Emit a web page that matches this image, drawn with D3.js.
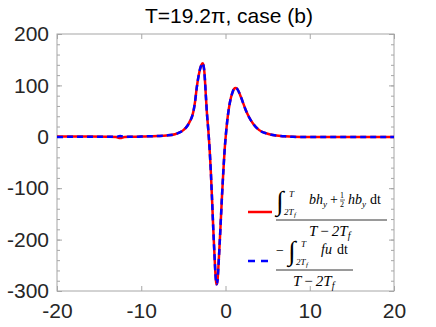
<!DOCTYPE html>
<html>
<head>
<meta charset="utf-8">
<script src="https://cdn.jsdelivr.net/npm/d3@7"></script>
<style>
  body { margin: 0; background: #fff; }
  svg { display: block; }
</style>
</head>
<body>
<div id="chart"></div>
<script>
// values
var xs   = [-20, -18, -16, -14, -13, -12.5, -12, -11, -10, -9, -8, -7, -6, -5.5, -5, -4.5, -4.2, -4, -3.8, -3.6, -3.4, -3.2, -3.0, -2.85, -2.7, -2.6, -2.5, -2.35, -2.2, -2.05, -1.9, -1.75, -1.6, -1.45, -1.3, -1.2, -1.1, -1.05, -0.95, -0.85, -0.7, -0.55, -0.4, -0.25, -0.1, 0.05, 0.2, 0.4, 0.6, 0.8, 1.0, 1.2, 1.4, 1.7, 2.0, 2.4, 2.8, 3.3, 4.0, 5.0, 6.0, 7.0, 8.0, 10, 12, 14, 16, 18, 20];
var redY = [0.5, 0.5, 0.5, 0, -0.5, -2.5, -0.5, 0, 0.5, 1, 1.5, 2.5, 5, 8, 13, 22, 31, 38, 50, 70, 97, 118, 133, 140, 143, 138, 125, 85, 45, 15, -20, -65, -120, -180, -232, -265, -284, -287, -280, -255, -210, -160, -110, -65, -25, 5, 30, 55, 73, 85, 93, 95, 93, 83, 70, 52, 38, 25, 13, 6, 2.5, 1, 0, -0.5, -0.5, -0.5, -0.5, -0.5, -0.5];
var blueY = [-0.5, 0, 0, 0, 0, 1.5, 0, 0, 0.5, 1, 1.5, 2.5, 5, 8, 13, 22, 31, 38, 50, 70, 97, 118, 133, 140, 143, 138, 125, 85, 45, 15, -20, -65, -120, -180, -232, -265, -284, -287, -280, -255, -210, -160, -110, -65, -25, 5, 30, 55, 73, 85, 93, 95, 93, 83, 70, 52, 38, 25, 13, 6, 2.5, 1, 0, -0.5, -0.5, -0.5, -0.5, -0.5, -0.5];
var xTicks = [-20, -10, 0, 10, 20];
var yTicks = [200, 100, 0, -100, -200, -300];
var yMinor = d3.range(-300, 201, 20);

var width = 436, height = 327;
var mLeft = 57, mRight = 394, mTop = 34, mBottom = 291;

var svg = d3.select("#chart").append("svg")
    .attr("width", width)
    .attr("height", height);

var x = d3.scaleLinear().domain([-20, 20]).range([mLeft, mRight]);
var y = d3.scaleLinear().domain([-300, 200]).range([mBottom, mTop]);

var axisColor = "#a6a6a6", textColor = "#262626";
var fmt = function(d) { return String(d); };

// axes box
svg.append("rect")
    .attr("x", mLeft).attr("y", mTop)
    .attr("width", mRight - mLeft).attr("height", mBottom - mTop)
    .attr("fill", "none").attr("stroke", axisColor).attr("stroke-width", 1);

function styleAxis(g) {
  g.select(".domain").remove();
  g.selectAll(".tick line").attr("stroke", axisColor);
  g.selectAll(".tick text")
      .attr("fill", textColor)
      .style("font-family", "'Liberation Sans', Arial, sans-serif")
      .style("font-size", "21px");
}

svg.append("g")
    .attr("transform", "translate(0," + mBottom + ")")
    .call(d3.axisBottom(x).tickValues(xTicks).tickSize(-5).tickPadding(12).tickFormat(fmt))
    .call(styleAxis);

svg.append("g")
    .attr("transform", "translate(0," + mTop + ")")
    .call(d3.axisTop(x).tickValues(xTicks).tickSize(-5).tickFormat(""))
    .call(styleAxis);

svg.append("g")
    .attr("transform", "translate(" + mLeft + ",0)")
    .call(d3.axisLeft(y).tickValues(yMinor).tickSize(-3).tickFormat(""))
    .call(styleAxis);

svg.append("g")
    .attr("transform", "translate(" + mLeft + ",0)")
    .call(d3.axisLeft(y).tickValues(yTicks).tickSize(-5).tickPadding(8).tickFormat(fmt))
    .call(styleAxis);

svg.append("g")
    .attr("transform", "translate(" + mRight + ",0)")
    .call(d3.axisRight(y).tickValues(yMinor).tickSize(-3).tickFormat(""))
    .call(styleAxis);

svg.append("g")
    .attr("transform", "translate(" + mRight + ",0)")
    .call(d3.axisRight(y).tickValues(yTicks).tickSize(-5).tickFormat(""))
    .call(styleAxis);

// curves
var red = xs.map(function(d, i) { return [d, redY[i]]; });
var blue = xs.map(function(d, i) { return [d, blueY[i]]; });

var line = d3.line()
    .x(function(d) { return x(d[0]); })
    .y(function(d) { return y(d[1]); })
    .curve(d3.curveMonotoneX);

svg.append("path").datum(red)
    .attr("d", line)
    .attr("fill", "none").attr("stroke", "#ff0000").attr("stroke-width", 2.5);

svg.append("path").datum(blue)
    .attr("d", line)
    .attr("fill", "none").attr("stroke", "#0000ff").attr("stroke-width", 2.5)
    .attr("stroke-dasharray", "6,4");

// title
svg.append("text")
    .attr("x", 229).attr("y", 23)
    .attr("text-anchor", "middle")
    .attr("fill", "#000")
    .style("font-family", "'Liberation Sans', Arial, sans-serif")
    .style("font-size", "21px")
    .text("T=19.2\u03c0, case (b)");

// legend
var serif = "'Liberation Serif', 'Times New Roman', serif";
var leg = svg.append("g").attr("fill", "#000").style("font-family", serif);

function put(txt, px, py, size, italic) {
  return leg.append("text")
      .attr("x", px).attr("y", py)
      .style("font-size", size + "px")
      .style("font-style", italic ? "italic" : "normal")
      .text(txt);
}

function denom(px, py) {
  var t = leg.append("text").attr("x", px).attr("y", py)
      .style("font-size", "15px").style("font-style", "italic");
  t.append("tspan").text("T");
  t.append("tspan").attr("dx", 3).style("font-style", "normal").text("\u2212");
  t.append("tspan").attr("dx", 3).text("2T");
  t.append("tspan").attr("dy", 3).style("font-size", "10px").text("f");
}

leg.append("line").attr("x1", 248).attr("x2", 272).attr("y1", 212).attr("y2", 212)
    .attr("stroke", "#ff0000").attr("stroke-width", 2.5);
put("\u222b", 276, 210, 27, false);
put("T", 289, 197, 9, true);
put("2T", 284, 215, 9, true);
put("f", 294, 217, 7, true);
put("bh", 309, 204, 14, true);
put("y", 323, 207, 9, true);
put("+", 330, 204, 14, false);
put("1", 340, 198, 8, false);
leg.append("line").attr("x1", 340).attr("x2", 345).attr("y1", 200).attr("y2", 200).attr("stroke", "#000").attr("stroke-width", 0.6);
put("2", 340, 207, 8, false);
put("hb", 348, 204, 14, true);
put("y", 362, 207, 9, true);
put("dt", 370, 204, 14, false);
leg.append("line").attr("x1", 276).attr("x2", 387).attr("y1", 220).attr("y2", 220).attr("stroke", "#000").attr("stroke-width", 0.8);
denom(309, 236);

leg.append("line").attr("x1", 248).attr("x2", 272).attr("y1", 261).attr("y2", 261)
    .attr("stroke", "#0000ff").attr("stroke-width", 2.5).attr("stroke-dasharray", "7,6");
put("\u2212", 276, 255, 14, false);
put("\u222b", 288, 260, 27, false);
put("T", 301, 247, 9, true);
put("2T", 296, 265, 9, true);
put("f", 306, 267, 7, true);
put("fu", 321, 254, 14, true);
put("dt", 337, 254, 14, false);
leg.append("line").attr("x1", 276).attr("x2", 353).attr("y1", 270).attr("y2", 270).attr("stroke", "#000").attr("stroke-width", 0.8);
denom(293, 286);
</script>
</body>
</html>
